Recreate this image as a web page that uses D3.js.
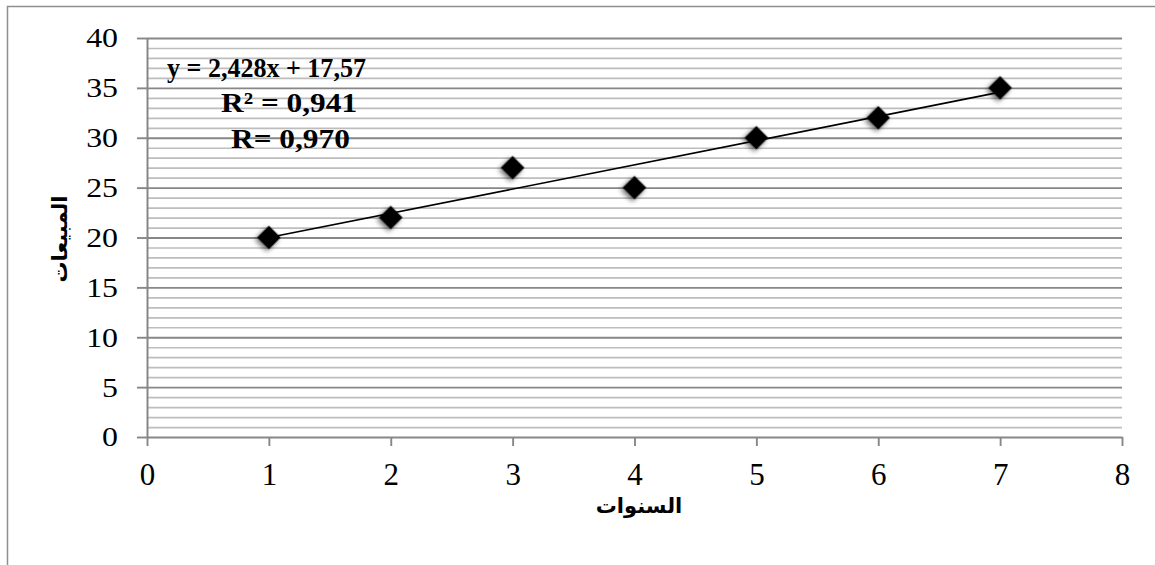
<!DOCTYPE html>
<html><head><meta charset="utf-8">
<script src="https://cdn.jsdelivr.net/npm/d3@7"></script>
<style>body{margin:0;background:#fff;} svg{display:block}</style>
</head><body><svg id="c" width="1155" height="565"></svg>
<script>
const years = [1, 2, 3, 4, 5, 6, 7];
const sales = [20, 22, 27, 25, 30, 32, 35];
const xTicks = [0, 1, 2, 3, 4, 5, 6, 7, 8];
const yTicks = [0, 5, 10, 15, 20, 25, 30, 35, 40];
const minorTicks = [1,2,3,4,6,7,8,9,11,12,13,14,16,17,18,19,21,22,23,24,26,27,28,29,31,32,33,34,36,37,38,39];
const trendSlope = 2.428, trendIntercept = 17.57;
const eqLines = ["y = 2,428x + 17,57", "R² = 0,941", "R= 0,970"];
const xTitle = "السنوات", yTitle = "المبيعات";

const svg = d3.select("#c");
const L = 147, R = 1122, T = 38, B = 437;
const x = d3.scaleLinear().domain([0, 8]).range([L, R]);
const y = d3.scaleLinear().domain([0, 40]).range([B, T]);

const defs = svg.append("defs");
const f = defs.append("filter").attr("id", "sh").attr("x", "-50%").attr("y", "-50%").attr("width", "200%").attr("height", "200%");
f.append("feDropShadow").attr("dx", 0).attr("dy", 3).attr("stdDeviation", 2.4).attr("flood-color", "#000").attr("flood-opacity", 0.55);

// outer frame (partially visible)
svg.append("path").attr("d", "M7.5,565 V6.5 H1155").attr("fill", "none").attr("stroke", "#8f8f8f").attr("stroke-width", 1.5);

// minor gridlines
svg.append("g").attr("transform", `translate(${L},0)`)
  .call(d3.axisLeft(y).tickValues(minorTicks).tickSize(-(R - L)).tickFormat(""))
  .call(g => g.select(".domain").remove())
  .call(g => g.selectAll(".tick line").attr("stroke", "#bdbdbd").attr("stroke-width", 1.7));

// major gridlines
svg.append("g").attr("transform", `translate(${L},0)`)
  .call(d3.axisLeft(y).tickValues(yTicks.filter(v => v > 0)).tickSize(-(R - L)).tickFormat(""))
  .call(g => g.select(".domain").remove())
  .call(g => g.selectAll(".tick line").attr("stroke", "#878787").attr("stroke-width", 1.9));

// y axis
const sx = 1.18;
svg.append("g").attr("transform", `translate(${L},0)`)
  .call(d3.axisLeft(y).tickValues(yTicks).tickSize(10).tickSizeOuter(0).tickPadding(0))
  .call(g => g.select(".domain").attr("stroke", "#878787").attr("stroke-width", 2))
  .call(g => g.selectAll(".tick line").attr("stroke", "#878787").attr("stroke-width", 1.9))
  .call(g => g.selectAll(".tick text")
    .attr("font-family", "'Liberation Serif','Times New Roman',serif").attr("font-size", 27).attr("fill", "#000")
    .attr("x", -29 / sx).attr("dy", "0.33em").attr("transform", `scale(${sx},1)`));

// x axis
svg.append("g").attr("transform", `translate(0,${B})`)
  .call(d3.axisBottom(x).tickValues(xTicks).tickSize(9).tickSizeOuter(0).tickPadding(0))
  .call(g => g.select(".domain").attr("stroke", "#878787").attr("stroke-width", 2))
  .call(g => g.selectAll(".tick line").attr("stroke", "#878787").attr("stroke-width", 1.9))
  .call(g => g.selectAll(".tick text")
    .attr("font-family", "'Liberation Serif','Times New Roman',serif").attr("font-size", 31).attr("fill", "#000")
    .attr("y", 48).attr("dy", 0));

// trendline
const tl = d3.line().x(d => x(d)).y(d => y(trendSlope * d + trendIntercept));
svg.append("path").datum([d3.min(years), d3.max(years)]).attr("d", tl)
  .attr("fill", "none").attr("stroke", "#000").attr("stroke-width", 1.7);

// markers
const sym = d3.symbol().type(d3.symbolSquare).size(280);
svg.append("g").selectAll("path").data(years.map((v, i) => [v, sales[i]])).join("path")
  .attr("d", sym)
  .attr("transform", d => `translate(${x(d[0])},${y(d[1])}) rotate(45)`)
  .attr("fill", "#000").attr("filter", "url(#sh)");

// equation text
const eqX = [167, 221, 231], eqY = [77, 112, 148];
const eqS = [0.965, 1.12, 1.12];
const eqF = [27, 28, 28];
svg.append("g").selectAll("text").data(eqLines).join("text")
  .attr("transform", (d, i) => `translate(${eqX[i]},${eqY[i]}) scale(${eqS[i]},1)`)
  .attr("font-family", "'Liberation Serif','Times New Roman',serif").attr("font-weight", "bold")
  .attr("font-size", (d, i) => eqF[i]).attr("fill", "#000").text(d => d);

// axis titles
svg.append("text").attr("x", 639).attr("y", 513).attr("text-anchor", "middle")
  .attr("font-family", "'DejaVu Sans',sans-serif").attr("font-weight", "bold").attr("font-size", 21)
  .attr("fill", "#000").text(xTitle);
svg.append("text").attr("transform", "translate(67,239) rotate(-90)").attr("text-anchor", "middle")
  .attr("font-family", "'DejaVu Sans',sans-serif").attr("font-weight", "bold").attr("font-size", 21)
  .attr("fill", "#000").text(yTitle);
</script></body></html>
